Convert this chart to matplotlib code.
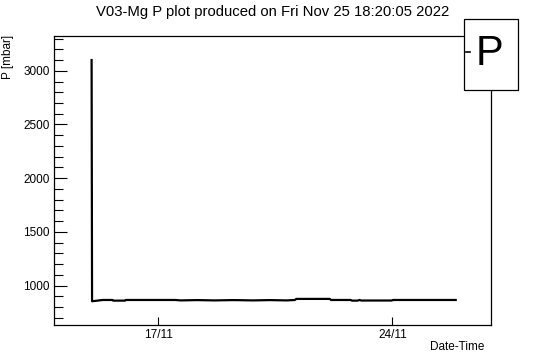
import pandas as pd
import matplotlib
matplotlib.use("Agg")
import matplotlib.pyplot as plt
from matplotlib.patches import Rectangle
from matplotlib.lines import Line2D

plt.rcParams['font.family'] = ['Liberation Sans', 'DejaVu Sans']

# pressure log
times = ["2022-11-15 00:00", "2022-11-15 00:20", "2022-11-15 08:00",
         "2022-11-15 15:00", "2022-11-15 15:30", "2022-11-16 00:00",
         "2022-11-16 00:30", "2022-11-17 12:00", "2022-11-17 16:00",
         "2022-11-18 04:00", "2022-11-18 16:00", "2022-11-19 06:00",
         "2022-11-19 20:00", "2022-11-20 08:00", "2022-11-20 20:00",
         "2022-11-21 02:00", "2022-11-21 03:00", "2022-11-22 03:00",
         "2022-11-22 04:00", "2022-11-22 18:00", "2022-11-22 19:00",
         "2022-11-22 23:00", "2022-11-23 00:30", "2022-11-23 01:30",
         "2022-11-23 23:30", "2022-11-24 00:30", "2022-11-25 21:30"]
pressure = [3100, 854, 866,
            866, 860, 860,
            866, 866, 862,
            865, 862, 865,
            862, 865, 862,
            866, 876, 876,
            866, 866, 860,
            860, 866, 861,
            861, 866, 866]

tick_days = ["2022-11-17", "2022-11-24"]
tick_labels = ["17/11", "24/11"]
x_range = ["2022-11-13 21:00", "2022-11-26 22:50"]
y_range = [633, 3324]

t = pd.to_datetime(times)

fig = plt.figure(figsize=(5.46, 3.62), dpi=100)
ax = fig.add_axes([54/546, 1-325/362, 437/546, 289/362])
ax.plot(t, pressure, color='black', lw=1.6)

ax.set_xlim(pd.to_datetime(x_range))
ax.set_ylim(y_range)
ax.set_xticks(pd.to_datetime(tick_days))
ax.set_xticklabels(tick_labels)
ax.set_yticks([1000, 1500, 2000, 2500, 3000])
ax.set_yticks(range(700, 3301, 100), minor=True)

ax.tick_params(axis='y', which='major', direction='in', length=9.4, width=0.8, labelsize=8.5, pad=3)
ax.tick_params(axis='y', which='minor', direction='in', length=6.5, width=0.8)
ax.tick_params(axis='x', which='major', direction='in', length=5.8, width=0.8, labelsize=8.5, pad=3)
ax.tick_params(axis='x', which='minor', bottom=False)
for s in ax.spines.values():
    s.set_linewidth(0.9)

fig.text(0.5, 1-12/362, "V03-Mg P plot produced on Fri Nov 25 18:20:05 2022",
         ha='center', va='center', fontsize=10.7)
fig.text(8/546, 1-35/362, "P [mbar]", rotation=90, ha='center', va='top', fontsize=8.5)
fig.text(484/546, 1-347.5/362, "Date-Time", ha='right', va='center', fontsize=8.5)

# legend box in the top right corner
fig.add_artist(Rectangle((464/546, 1-90/362), 54/546, 71/362, transform=fig.transFigure,
                         facecolor='white', edgecolor='black', lw=0.9, zorder=5))
fig.add_artist(Line2D([465.7/546, 470/546], [1-51.7/362]*2, transform=fig.transFigure,
                      color='black', lw=1.2, zorder=6))
fig.text(489.7/546, 1-54/362, "P", ha='center', va='center', fontsize=30, zorder=6)

fig.savefig("out.png", dpi=100)
